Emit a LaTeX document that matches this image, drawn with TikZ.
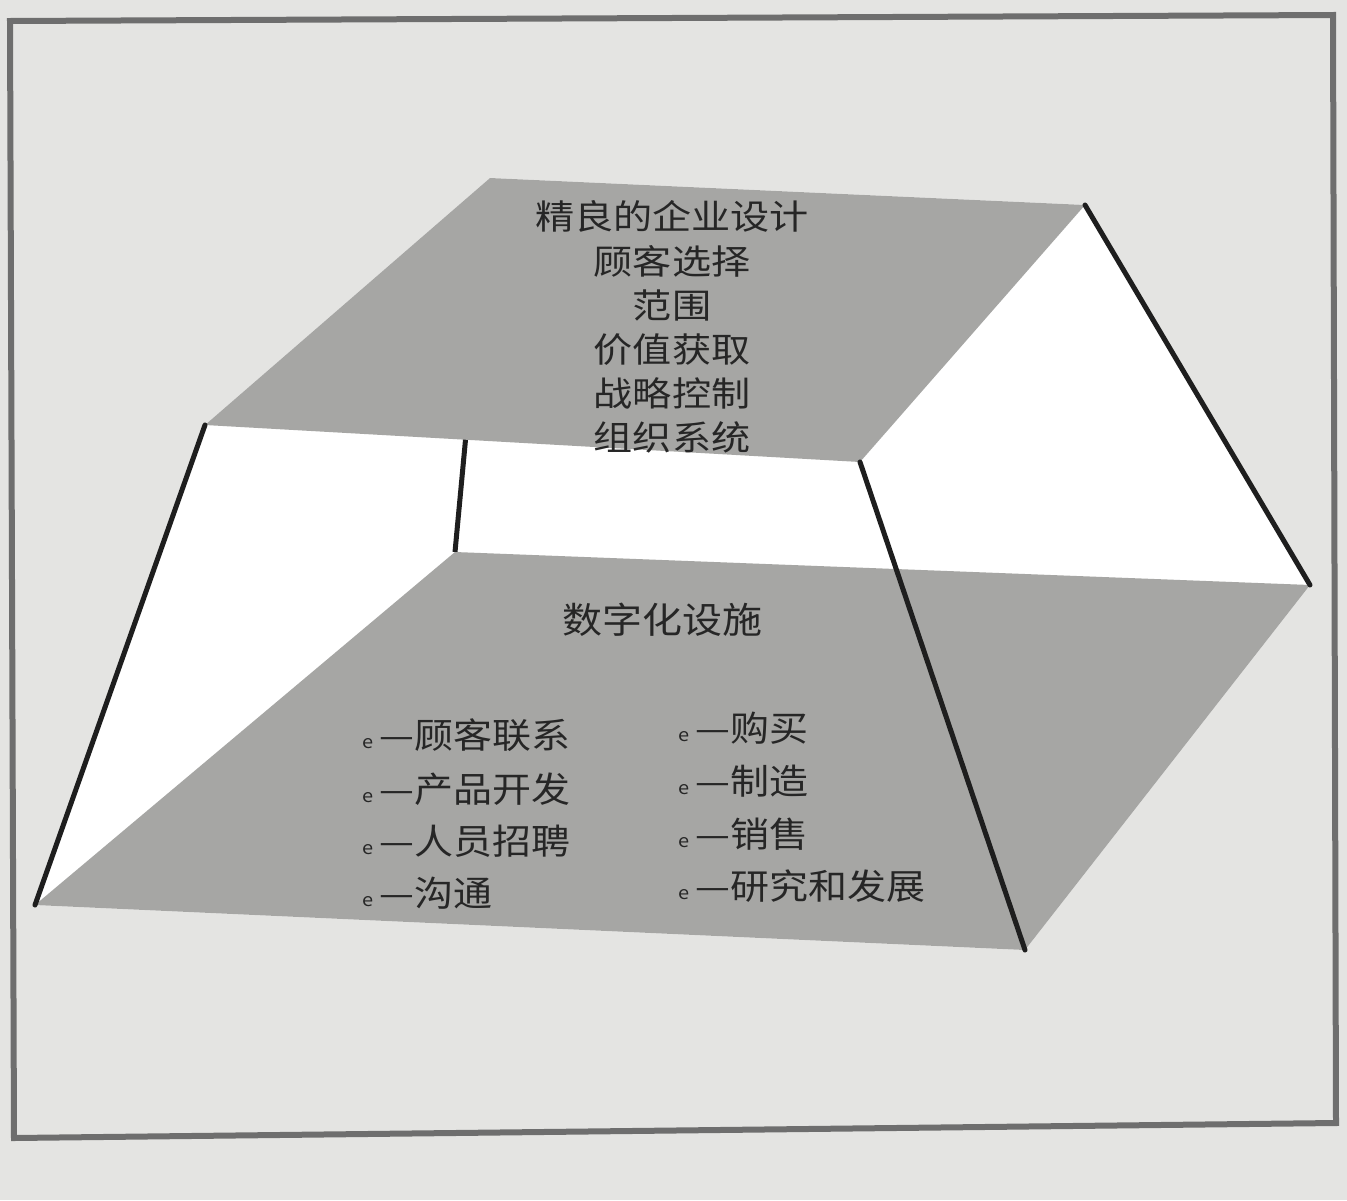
\documentclass[tikz,border=0pt]{standalone}
\usepackage{fontspec}
\usetikzlibrary{calc}
\newfontfamily\cjk{Noto Sans CJK SC}
\definecolor{bgc}{HTML}{E4E4E2}
\definecolor{planec}{HTML}{A6A6A4}
\definecolor{framec}{HTML}{6E6E6E}
\definecolor{edgec}{HTML}{1E1E1E}
\begin{document}
\begin{tikzpicture}[x=1pt,y=-1pt,
  plane/.style={fill=planec,draw=none},
  edge/.style={draw=edgec,line width=5pt,line cap=round},
  toptxt/.style={font=\cjk\fontsize{38}{49}\selectfont,text=black!85,align=center,inner sep=0pt,xscale=1.03,yscale=0.9},
  headtxt/.style={font=\cjk\fontsize{40}{44}\selectfont,text=black!85,inner sep=0pt,yscale=0.9},
  itemtxt/.style={font=\cjk\fontsize{39}{40}\selectfont,text=black!85,anchor=west,inner sep=0pt,yscale=0.9}]
\useasboundingbox (0,0) rectangle (1347,1200);
\fill[bgc] (0,0) rectangle (1347,1200);
% frame
\draw[framec,line width=6pt,line join=miter] (10,21) -- (1333,15) -- (1336,1123) -- (14,1138) -- cycle;
% corners
\coordinate (A) at (490,178);
\coordinate (B) at (1085,205);
\coordinate (C) at (860,462);
\coordinate (D) at (205,425);
\coordinate (A2) at (455,552);
\coordinate (B2) at (1310,585);
\coordinate (C2) at (1025,950);
\coordinate (D2) at (35,905);
% white sides
\fill[white] (D) -- (A) -- (B) -- (B2) -- (C2) -- (D2) -- cycle;
\draw[edge,line cap=butt] ($(A)!0.5!(A2)$) -- (A2);
% planes
\fill[plane] (A2) -- (B2) -- (C2) -- (D2) -- cycle;
\fill[plane] (A) -- (B) -- (C) -- (D) -- cycle;
% visible edges
\draw[edge] (D) -- (D2);
\draw[edge] (B) -- (B2);
\draw[edge] (C) -- (C2);
% texts
\node[toptxt] (top) at (672,327) {精良的企业设计\\顾客选择\\范围\\价值获取\\战略控制\\组织系统};
\node[headtxt] (head) at (662,620) {数字化设施};
\newcommand{\eitem}[1]{{\fontsize{20}{20}\selectfont e}\,—#1}
\node[itemtxt] (l1) at (362,735) {\eitem{顾客联系}};
\node[itemtxt] (l2) at (362,789) {\eitem{产品开发}};
\node[itemtxt] (l3) at (362,841) {\eitem{人员招聘}};
\node[itemtxt] (l4) at (362,893) {\eitem{沟通}};
\node[itemtxt] (r1) at (678,728) {\eitem{购买}};
\node[itemtxt] (r2) at (678,781) {\eitem{制造}};
\node[itemtxt] (r3) at (678,834) {\eitem{销售}};
\node[itemtxt] (r4) at (678,886) {\eitem{研究和发展}};
\end{tikzpicture}
\end{document}
